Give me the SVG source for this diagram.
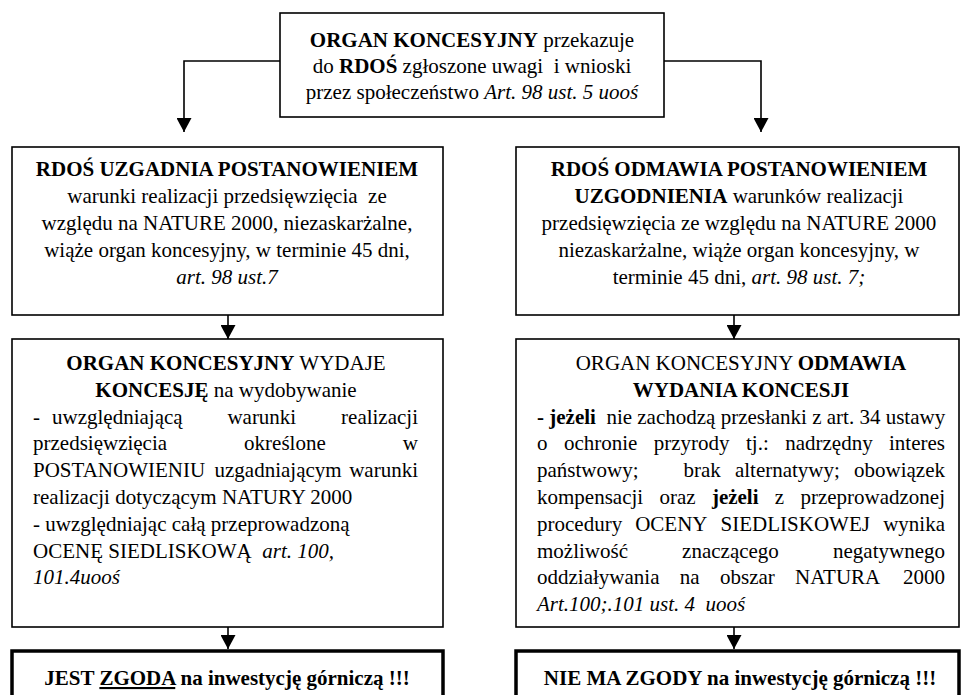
<svg xmlns="http://www.w3.org/2000/svg" width="961" height="695" viewBox="0 0 961 695" font-family="'Liberation Serif', 'Times New Roman', Tinos, 'DejaVu Serif', serif">
<defs>
<style>
.t { font-family: "Liberation Serif", "Times New Roman", Tinos, "DejaVu Serif", serif; font-size: 21px; fill: #000; }
.b { font-weight: bold; }
.i { font-style: italic; }
.c { text-anchor: middle; }
.e { text-anchor: end; }
.box { fill: #fff; stroke: #000; stroke-width: 1.6; }
.boxk { fill: #fff; stroke: #000; stroke-width: 3.5; }
.con { fill: none; stroke: #000; stroke-width: 1.6; }
</style>
<marker id="ah" markerUnits="userSpaceOnUse" markerWidth="15" markerHeight="15" refX="14" refY="7.5" orient="auto" viewBox="0 0 15 15">
<path d="M0,0 L14,7.5 L0,15 Z" fill="#000"/>
</marker>
</defs>
<rect width="961" height="695" fill="#fff"/>

<g id="connectors">
<path class="con" d="M280,61 H184 V132" marker-end="url(#ah)"/>
<path class="con" d="M664,61 H761 V132" marker-end="url(#ah)"/>
<path class="con" d="M228,315 V339" marker-end="url(#ah)"/>
<path class="con" d="M734,315 V339" marker-end="url(#ah)"/>
<path class="con" d="M228,627 V649" marker-end="url(#ah)"/>
<path class="con" d="M734,627 V649" marker-end="url(#ah)"/>
</g>

<g id="node-top">
<rect class="box" x="280" y="13" width="384" height="104"/>
<text class="t c" x="472" y="47"><tspan class="b">ORGAN KONCESYJNY</tspan> przekazuje</text>
<text class="t c" x="472" y="73" xml:space="preserve">do <tspan class="b">RDOŚ</tspan> zgłoszone uwagi  i wnioski</text>
<text class="t c" x="472" y="99">przez społeczeństwo <tspan class="i">Art. 98 ust. 5 uooś</tspan></text>
</g>

<g id="node-uzgadnia">
<rect class="box" x="12" y="147" width="431" height="168"/>
<text class="t c b" x="227" y="176">RDOŚ UZGADNIA POSTANOWIENIEM</text>
<text class="t c" x="227" y="203" xml:space="preserve">warunki realizacji przedsięwzięcia  ze</text>
<text class="t c" x="227" y="230">względu na NATURE 2000, niezaskarżalne,</text>
<text class="t c" x="227" y="257">wiąże organ koncesyjny, w terminie 45 dni,</text>
<text class="t c i" x="227" y="284">art. 98 ust.7</text>
</g>

<g id="node-odmawia-uzgodnienia">
<rect class="box" x="516" y="147" width="443" height="168"/>
<text class="t c b" x="739" y="176">RDOŚ ODMAWIA POSTANOWIENIEM</text>
<text class="t c" x="739" y="203"><tspan class="b">UZGODNIENIA</tspan> warunków realizacji</text>
<text class="t c" x="739" y="230">przedsięwzięcia ze względu na NATURE 2000</text>
<text class="t c" x="739" y="257">niezaskarżalne, wiąże organ koncesyjny, w</text>
<text class="t c" x="739" y="284">terminie 45 dni, <tspan class="i">art. 98 ust. 7;</tspan></text>
</g>

<g id="node-wydaje">
<rect class="box" x="12" y="339" width="431" height="288"/>
<text class="t c" x="226" y="370"><tspan class="b">ORGAN KONCESYJNY</tspan> WYDAJE</text>
<text class="t c" x="226" y="396.8"><tspan class="b">KONCESJĘ</tspan> na wydobywanie</text>
<text class="t" y="423.6"><tspan x="33">-</tspan><tspan x="52">uwzględniającą</tspan><tspan x="227.4">warunki</tspan><tspan x="418" class="e">realizacji</tspan></text>
<text class="t" y="450.4"><tspan x="33">przedsięwzięcia</tspan><tspan x="244.1">określone</tspan><tspan x="418" class="e">w</tspan></text>
<text class="t" y="477.2"><tspan x="33">POSTANOWIENIU</tspan><tspan x="214.5">uzgadniającym</tspan><tspan x="418" class="e">warunki</tspan></text>
<text class="t" x="33" y="504">realizacji dotyczącym NATURY 2000</text>
<text class="t" x="33" y="530.8">- uwzględniając całą przeprowadzoną</text>
<text class="t" x="33" y="557.6" xml:space="preserve">OCENĘ SIEDLISKOWĄ  <tspan class="i">art. 100,</tspan></text>
<text class="t i" x="33" y="584.4">101.4uooś</text>
</g>

<g id="node-odmawia-koncesji">
<rect class="box" x="516" y="339" width="443" height="288"/>
<text class="t c" x="741" y="370">ORGAN KONCESYJNY <tspan class="b">ODMAWIA</tspan></text>
<text class="t c b" x="741" y="396.8">WYDANIA KONCESJI</text>
<text class="t" x="537" y="423.6" xml:space="preserve"><tspan class="b">- jeżeli</tspan>  nie zachodzą przesłanki z art. 34 ustawy</text>
<text class="t" y="450.4"><tspan x="537">o</tspan><tspan x="563.9">ochronie</tspan><tspan x="653.8">przyrody</tspan><tspan x="746">tj.:</tspan><tspan x="785.2">nadrzędny</tspan><tspan x="945" class="e">interes</tspan></text>
<text class="t" y="477.2"><tspan x="537">państwowy;</tspan><tspan x="683.5">brak</tspan><tspan x="734.9">alternatywy;</tspan><tspan x="945" class="e">obowiązek</tspan></text>
<text class="t" y="504"><tspan x="537">kompensacji</tspan><tspan x="659.5">oraz</tspan><tspan x="711.9" class="b">jeżeli</tspan><tspan x="774.8">z</tspan><tspan x="945" class="e">przeprowadzonej</tspan></text>
<text class="t" y="530.8"><tspan x="537">procedury</tspan><tspan x="635.2">OCENY</tspan><tspan x="720.6">SIEDLISKOWEJ</tspan><tspan x="945" class="e">wynika</tspan></text>
<text class="t" y="557.6"><tspan x="537">możliwość</tspan><tspan x="682.1">znaczącego</tspan><tspan x="945" class="e">negatywnego</tspan></text>
<text class="t" y="584.4"><tspan x="537">oddziaływania</tspan><tspan x="679.8">na</tspan><tspan x="720">obszar</tspan><tspan x="795.1">NATURA</tspan><tspan x="945" class="e">2000</tspan></text>
<text class="t i" x="537" y="611.2" xml:space="preserve">Art.100;.101 ust. 4  uooś</text>
</g>

<g id="node-zgoda">
<rect class="boxk" x="12" y="651" width="431" height="90"/>
<text class="t c b" x="227" y="685">JEST <tspan text-decoration="underline">ZGODA</tspan> na inwestycję górniczą !!!</text>
</g>

<g id="node-brak-zgody">
<rect class="boxk" x="516" y="651" width="443" height="90"/>
<text class="t c b" x="740" y="685">NIE MA ZGODY na inwestycję górniczą !!!</text>
</g>
</svg>
